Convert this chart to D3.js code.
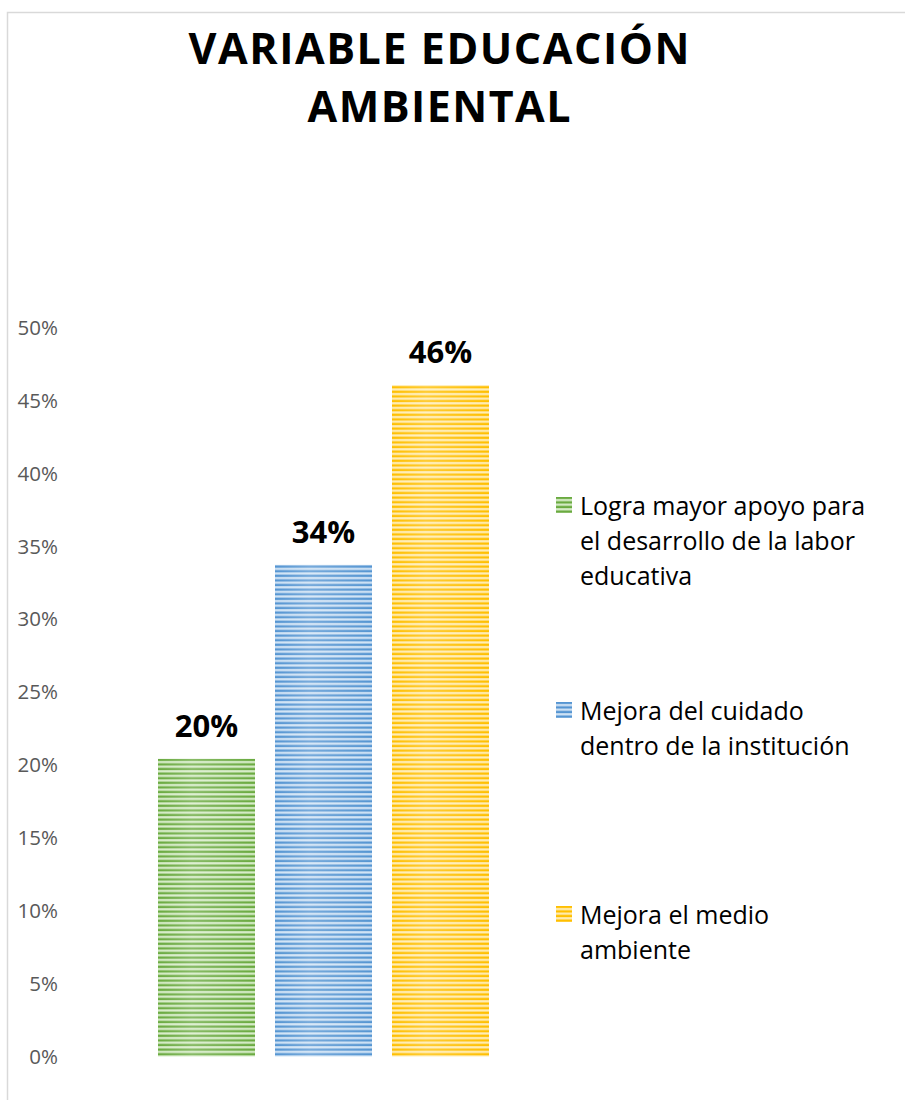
<!DOCTYPE html>
<meta charset="utf-8">
<style>
body { margin: 0; background: #fff; }
text { font-family: "Open Sans", "Noto Sans", sans-serif; }
.axis text { fill: #595959; font-size: 20.5px; }
.axis .domain { display: none; }
.title { font-weight: bold; font-size: 43px; fill: #000; }
.label { font-weight: bold; font-size: 31px; fill: #000; }
.legend text { font-size: 25px; fill: #000; }
</style>
<svg width="905" height="1100"></svg>
<script src="https://cdn.jsdelivr.net/npm/d3@7"></script>
<script>

// data
const categories = [
  "Logra mayor apoyo para el desarrollo de la labor educativa",
  "Mejora del cuidado dentro de la institución",
  "Mejora el medio ambiente"
];
const values = [0.204, 0.337, 0.46];
const legendLines = [
  ["Logra mayor apoyo para", "el desarrollo de la labor", "educativa"],
  ["Mejora del cuidado", "dentro de la institución"],
  ["Mejora el medio", "ambiente"]
];
const titleLines = ["VARIABLE EDUCACIÓN", "AMBIENTAL"];
const yTicks = [0, 0.05, 0.1, 0.15, 0.2, 0.25, 0.3, 0.35, 0.4, 0.45, 0.5];

const colors = ["#6aaa40", "#5595d2", "#ffbf00"];
const lights = ["#d9eecb", "#d3e5f6", "#ffeeb8"];

var svg = d3.select("svg");

// frame
svg.append("rect")
  .attr("x", 7.5).attr("y", 12.5)
  .attr("width", 1000).attr("height", 1200)
  .attr("fill", "#fff")
  .attr("stroke", "#d9d9d9")
  .attr("stroke-width", 1.5);

// striped patterns
var defs = svg.append("defs");
colors.forEach(function(c, i) {
  var p = defs.append("pattern")
    .attr("id", "stripe" + i)
    .attr("patternUnits", "userSpaceOnUse")
    .attr("width", 10).attr("height", 4.6);
  p.append("rect").attr("width", 10).attr("height", 4.6).attr("fill", c);
  p.append("rect").attr("y", 2.0).attr("width", 10).attr("height", 2.2).attr("fill", lights[i]);
});
// soft horizontal sheen
var g = defs.append("linearGradient").attr("id", "sheen").attr("x1", 0).attr("x2", 1);
g.append("stop").attr("offset", "0%").attr("stop-color", "#fff").attr("stop-opacity", 0);
g.append("stop").attr("offset", "35%").attr("stop-color", "#fff").attr("stop-opacity", 0.2);
g.append("stop").attr("offset", "100%").attr("stop-color", "#fff").attr("stop-opacity", 0);

var y = d3.scaleLinear().domain([0, 0.5]).range([1056.5, 327]);
var x = d3.scaleBand().domain(categories)
  .range([41, 606]).paddingInner(0.171).paddingOuter(1);

// y axis labels
svg.append("g")
  .attr("class", "axis")
  .attr("transform", "translate(58,0)")
  .call(d3.axisLeft(y).tickValues(yTicks).tickFormat(d3.format(".0%")).tickSize(0).tickPadding(0))
  .selectAll("text").attr("dy", "0.35em");

// bars
var bars = svg.append("g");
bars.selectAll("rect.bar")
  .data(values)
  .enter().append("rect")
    .attr("class", "bar")
    .attr("x", function(d, i) { return x(categories[i]); })
    .attr("y", function(d) { return y(d); })
    .attr("width", x.bandwidth())
    .attr("height", function(d) { return y(0) - y(d); })
    .attr("fill", function(d, i) { return "url(#stripe" + i + ")"; });
bars.selectAll("rect.sheen")
  .data(values)
  .enter().append("rect")
    .attr("class", "sheen")
    .attr("x", function(d, i) { return x(categories[i]); })
    .attr("y", function(d) { return y(d); })
    .attr("width", x.bandwidth())
    .attr("height", function(d) { return y(0) - y(d); })
    .attr("fill", "url(#sheen)");

// value labels
svg.selectAll("text.label")
  .data(values)
  .enter().append("text")
    .attr("class", "label")
    .attr("text-anchor", "middle")
    .attr("x", function(d, i) { return x(categories[i]) + x.bandwidth() / 2; })
    .attr("y", function(d) { return y(d) - 22; })
    .text(function(d) { return d3.format(".0%")(d); });

// title
var titleW = [501, 263];
svg.selectAll("text.title")
  .data(titleLines)
  .enter().append("text")
    .attr("class", "title")
    .attr("text-anchor", "middle")
    .attr("x", 439)
    .attr("y", function(d, i) { return 64 + i * 58; })
    .attr("textLength", function(d, i) { return titleW[i]; })
    .attr("lengthAdjust", "spacing")
    .text(function(d) { return d; });

// legend
var legendTop = [497, 702, 906];
var leg = svg.append("g").attr("class", "legend");
legendLines.forEach(function(lines, i) {
  var item = leg.append("g").attr("transform", "translate(556," + legendTop[i] + ")");
  item.append("rect")
    .attr("width", 16).attr("height", 16)
    .attr("fill", "url(#stripe" + i + ")");
  item.selectAll("text")
    .data(lines)
    .enter().append("text")
      .attr("x", 24)
      .attr("y", function(d, j) { return 18 + j * 35; })
      .text(function(d) { return d; });
});

</script>
